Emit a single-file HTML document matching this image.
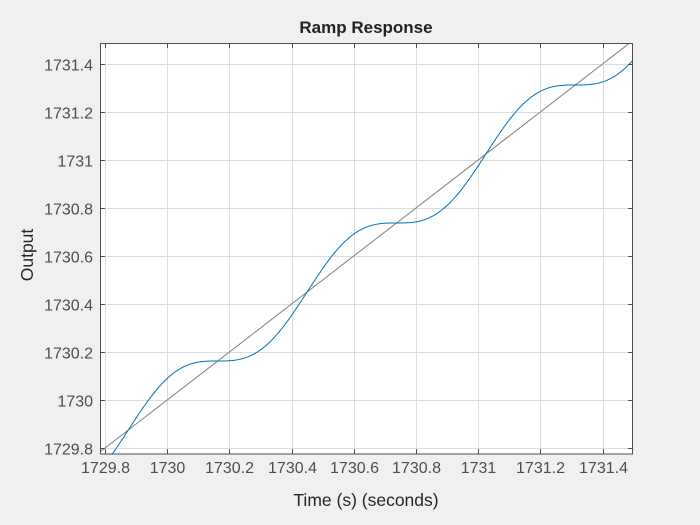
<!DOCTYPE html>
<html><head><style>
html,body{margin:0;padding:0;background:#f0f0f0;}
svg{display:block;font-family:"Liberation Sans",Arial,sans-serif;}
</style></head><body>
<svg id="s" width="700" height="525" viewBox="0 0 700 525" xmlns="http://www.w3.org/2000/svg">
<rect x="0" y="0" width="700" height="525" fill="#f0f0f0"/>
<rect x="100" y="43" width="533" height="411" fill="#fff"/>
<defs><clipPath id="c"><rect x="100" y="43" width="533" height="411"/></clipPath></defs>
<g id="grid" stroke="#dcdcdc" stroke-width="1"></g>
<g clip-path="url(#c)">
<path id="gray" fill="none" stroke="#808080" stroke-width="1"/>
<path id="blue" fill="none" stroke="#0072bd" stroke-width="1"/>
</g>
<rect x="100.5" y="43.5" width="532" height="410.5" fill="none" stroke="#4d4d4d" stroke-width="1"/>
<g id="ticks" stroke="#4d4d4d" stroke-width="1"></g>
<g id="labels" fill="#4d4d4d" font-size="16"></g>
<text x="366" y="33" text-anchor="middle" font-size="17" font-weight="bold" fill="#222">Ramp Response</text>
<text x="366" y="506" text-anchor="middle" font-size="17.5" fill="#262626">Time (s) (seconds)</text>
<text transform="translate(33,255) rotate(-90)" text-anchor="middle" font-size="17.5" fill="#262626">Output</text>
</svg>
<script>
var x0=100,x1=633,y0=43,y1=454;
var xa=1729.784,xb=1731.498,ya=1729.775,yb=1731.4875;
function X(t){return x0+(t-xa)/(xb-xa)*(x1-x0);}
function Y(v){return y1-(v-ya)/(yb-ya)*(y1-y0);}
var g=document.getElementById('grid'),tk=document.getElementById('ticks'),lb=document.getElementById('labels');
var ns="http://www.w3.org/2000/svg";
function el(p,n,a,txt){var e=document.createElementNS(ns,n);for(var k in a)e.setAttribute(k,a[k]);if(txt)e.textContent=txt;p.appendChild(e);}
var xl=["1729.8","1730","1730.2","1730.4","1730.6","1730.8","1731","1731.2","1731.4"];
for(var i=0;i<9;i++){var v=1729.8+0.2*i,px=Math.round(X(v))+0.5;
el(g,'line',{x1:px,x2:px,y1:y0,y2:y1});
el(tk,'line',{x1:px,x2:px,y1:y1,y2:y1-5});el(tk,'line',{x1:px,x2:px,y1:y0,y2:y0+5});
el(lb,'text',{x:px,y:473,'text-anchor':'middle'},xl[i]);}
for(var i=0;i<9;i++){var v=1729.8+0.2*i,py=Math.round(Y(v))+0.5;
el(g,'line',{x1:x0,x2:x1,y1:py,y2:py});
el(tk,'line',{x1:x0,x2:x0+5,y1:py,y2:py});el(tk,'line',{x1:x1,x2:x1-5,y1:py,y2:py});
el(lb,'text',{x:93,y:py+6,'text-anchor':'end'},xl[i]);}
document.getElementById('gray').setAttribute('d','M'+X(1729.7)+','+Y(1729.7)+'L'+X(1731.6)+','+Y(1731.6));
var w=2*Math.PI/0.575,A=1/w,t0=1730.45,d='';
for(var t=xa-0.02;t<=xb+0.02;t+=0.002){var v=t+A*Math.sin(w*(t-t0));d+=(d?'L':'M')+X(t).toFixed(2)+','+Y(v).toFixed(2);}
document.getElementById('blue').setAttribute('d',d);
</script>
</body></html>
